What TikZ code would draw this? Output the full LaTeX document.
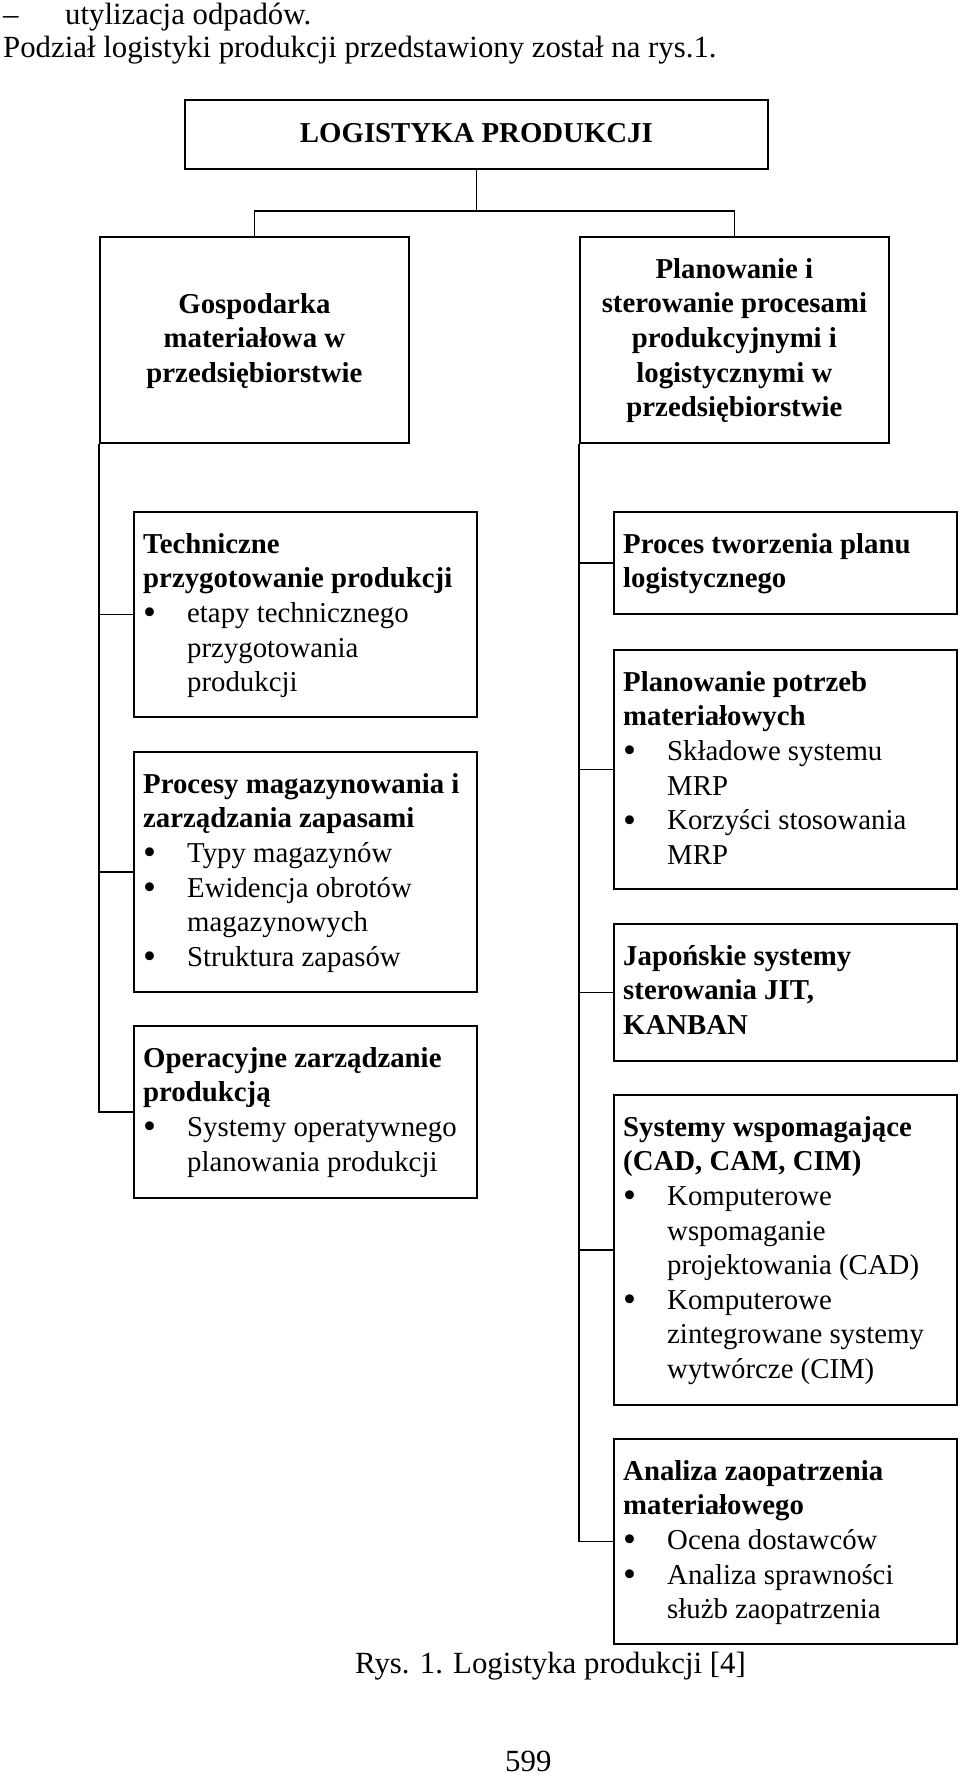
\documentclass[tikz,border=0pt]{standalone}
\usepackage{fontspec}
\setmainfont{Liberation Serif}
\newcommand{\bodyfont}{\fontsize{30.8}{36}\selectfont}
\newcommand{\boxfont}{\fontsize{28.8}{34.6}\selectfont}
\newcommand{\fl}{\rule{0pt}{22pt}}
\newcommand{\bul}{\makebox[44pt][l]{\raisebox{-2.5pt}{\fontsize{37}{0}\selectfont\textbullet}}}
\newcommand{\ind}{\makebox[44pt]{}}
\begin{document}
\begin{tikzpicture}[x=1pt,y=-1pt,
  box/.style={draw=black, line width=1.8pt, inner sep=0pt, anchor=north west},
  conn/.style={draw=black, line width=1.8pt},
  txt/.style={inner sep=0pt, align=left, font=\boxfont, anchor=north west},
  ctxt/.style={inner sep=0pt, align=center, font=\boxfont\bfseries, anchor=north},
  body/.style={inner sep=0pt, font=\bodyfont, anchor=base west}]
\useasboundingbox (0,0) rectangle (960,1778);

% running text
\node[body] (dash) at (3,24) {–};
\node[body] (l1) at (65,24) {utylizacja odpadów.};
\node[body] (l2) at (3,57) {Podział logistyki produkcji przedstawiony został na rys.1.};

% top level
\node[box, minimum width=583pt, minimum height=69pt] (top) at (184,99) {};
\node[ctxt] (topT) at ([shift={(0,21)}]top.north) {\fl LOGISTYKA PRODUKCJI};

\node[box, minimum width=309pt, minimum height=206pt] (gosp) at (99,236) {};
\node[ctxt] (gospT) at ([shift={(0,55)}]gosp.north) {\fl Gospodarka\\ materiałowa w\\ przedsiębiorstwie};

\node[box, minimum width=309pt, minimum height=206pt] (plan) at (579,236) {};
\node[ctxt] (planT) at ([shift={(0,20)}]plan.north) {\fl Planowanie i\\ sterowanie procesami\\ produkcyjnymi i\\ logistycznymi w\\ przedsiębiorstwie};

% left children
\node[box, minimum width=343pt, minimum height=205pt] (tech) at (133,511) {};
\node[txt] (techT) at ([shift={(10,20)}]tech.north west) {\fl\textbf{Techniczne}\\ \textbf{przygotowanie produkcji}\\ \bul etapy technicznego\\ \ind przygotowania\\ \ind produkcji};

\node[box, minimum width=343pt, minimum height=240pt] (mag) at (133,751) {};
\node[txt] (magT) at ([shift={(10,20)}]mag.north west) {\fl\textbf{Procesy magazynowania i}\\ \textbf{zarządzania zapasami}\\ \bul Typy magazynów\\ \bul Ewidencja obrotów\\ \ind magazynowych\\ \bul Struktura zapasów};

\node[box, minimum width=343pt, minimum height=172pt] (oper) at (133,1025) {};
\node[txt] (operT) at ([shift={(10,20)}]oper.north west) {\fl\textbf{Operacyjne zarządzanie}\\ \textbf{produkcją}\\ \bul Systemy operatywnego\\ \ind planowania produkcji};

% right children
\node[box, minimum width=343pt, minimum height=102pt] (plc) at (613,511) {};
\node[txt] (plcT) at ([shift={(10,20)}]plc.north west) {\fl\textbf{Proces tworzenia planu}\\ \textbf{logistycznego}};

\node[box, minimum width=343pt, minimum height=239pt] (mrp) at (613,649) {};
\node[txt] (mrpT) at ([shift={(10,20)}]mrp.north west) {\fl\textbf{Planowanie potrzeb}\\ \textbf{materiałowych}\\ \bul Składowe systemu\\ \ind MRP\\ \bul Korzyści stosowania\\ \ind MRP};

\node[box, minimum width=343pt, minimum height=137pt] (jap) at (613,923) {};
\node[txt] (japT) at ([shift={(10,20)}]jap.north west) {\fl\textbf{Japońskie systemy}\\ \textbf{sterowania JIT,}\\ \textbf{KANBAN}};

\node[box, minimum width=343pt, minimum height=310pt] (sys) at (613,1094) {};
\node[txt] (sysT) at ([shift={(10,20)}]sys.north west) {\fl\textbf{Systemy wspomagające}\\ \textbf{(CAD, CAM, CIM)}\\ \bul Komputerowe\\ \ind wspomaganie\\ \ind projektowania (CAD)\\ \bul Komputerowe\\ \ind zintegrowane systemy\\ \ind wytwórcze (CIM)};

\node[box, minimum width=343pt, minimum height=205pt] (anal) at (613,1438) {};
\node[txt] (analT) at ([shift={(10,20)}]anal.north west) {\fl\textbf{Analiza zaopatrzenia}\\ \textbf{materiałowego}\\ \bul Ocena dostawców\\ \bul Analiza sprawności\\ \ind służb zaopatrzenia};

% connectors
\coordinate (bar) at ([shift={(0,-25)}]gosp.north);
\draw[conn] (top.south) -- (top.south |- bar);
\draw[conn] (gosp.north) -- (bar) -| (plan.north);

\draw[conn] (gosp.south west) |- (oper.west);
\draw[conn] (gosp.south west |- tech.west) -- (tech.west);
\draw[conn] (gosp.south west |- mag.west) -- (mag.west);

\draw[conn] (plan.south west) |- (anal.west);
\draw[conn] (plan.south west |- plc.west) -- (plc.west);
\draw[conn] (plan.south west |- mrp.west) -- (mrp.west);
\draw[conn] (plan.south west |- jap.west) -- (jap.west);
\draw[conn] (plan.south west |- sys.west) -- (sys.west);

% caption and page number
\node[body] (cap) at (355,1673) {Rys. 1. Logistyka produkcji [4]};
\node[body] (page) at (505,1771) {599};
\end{tikzpicture}
\end{document}
